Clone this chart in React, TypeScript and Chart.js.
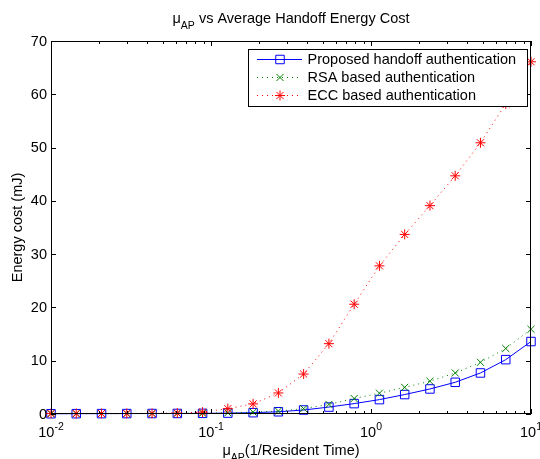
import { useEffect, useRef } from 'react';
import { Chart, registerables } from 'chart.js';
import { drawPoint } from 'chart.js/helpers';

Chart.register(...registerables);

// mu_AP values (1/Resident Time)
const muValues = [0.01, 0.01438, 0.02069, 0.02976, 0.04281, 0.06158, 0.08859, 0.1274, 0.1833, 0.2637, 0.3793, 0.5456, 0.7848, 1.129, 1.624, 2.336, 3.36, 4.833, 6.952, 10];
// Energy cost (mJ)
const proposedCost = [0.05, 0.06, 0.07, 0.08, 0.09, 0.1, 0.12, 0.17, 0.25, 0.42, 0.75, 1.3, 1.95, 2.7, 3.65, 4.7, 5.95, 7.7, 10.2, 13.6];
const rsaCost = [0.05, 0.06, 0.07, 0.08, 0.1, 0.12, 0.15, 0.22, 0.35, 0.55, 1.0, 1.8, 2.9, 3.9, 5.0, 6.15, 7.7, 9.7, 12.3, 15.9];
const eccCost = [0.1, 0.1, 0.1, 0.1, 0.12, 0.18, 0.35, 1.0, 1.9, 3.95, 7.5, 13.2, 20.6, 27.8, 33.7, 39.1, 44.7, 50.9, 58.2, 66.1];

const seriesLabels = ['Proposed handoff authentication', 'RSA based authentication', 'ECC based authentication'];
const yTicks = [0, 10, 20, 30, 40, 50, 60, 70];
const xMajorTicks = [0.01, 0.1, 1, 10];
const xTickExponents = ['-2', '-1', '0', '1'];
const xMinorMultipliers = [2, 3, 4, 5, 6, 7, 8, 9];

const titleMain = 'μ';
const titleSub = 'AP';
const titleRest = ' vs Average Handoff Energy Cost';
const xLabelMain = 'μ';
const xLabelSub = 'AP';
const xLabelRest = '(1/Resident Time)';
const yLabel = 'Energy cost (mJ)';

const FONT = '"Liberation Sans", Arial, Helvetica, sans-serif';

function drawSubText(ctx: CanvasRenderingContext2D, cx: number, baseline: number, main: string, sub: string, rest: string) {
  ctx.save();
  ctx.fillStyle = '#000';
  ctx.textAlign = 'left';
  ctx.textBaseline = 'alphabetic';
  const big = `14.5px ${FONT}`;
  const small = `10.5px ${FONT}`;
  ctx.font = big;
  const w1 = ctx.measureText(main).width;
  const w3 = ctx.measureText(rest).width;
  ctx.font = small;
  const w2 = ctx.measureText(sub).width;
  let x = cx - (w1 + w2 + w3) / 2;
  ctx.font = big;
  ctx.fillText(main, x, baseline);
  x += w1;
  ctx.font = small;
  ctx.fillText(sub, x, baseline + 6);
  x += w2;
  ctx.font = big;
  ctx.fillText(rest, x, baseline);
  ctx.restore();
}

const matlabPlugin = {
  id: 'matlabAxes',
  afterDatasetsDraw(chart: any) {
    const ctx: CanvasRenderingContext2D = chart.ctx;
    const { left, right, top, bottom } = chart.chartArea;
    const xs = chart.scales.x;
    const ys = chart.scales.y;
    ctx.save();
    ctx.strokeStyle = '#000';
    ctx.lineWidth = 1;
    // box
    ctx.strokeRect(left + 0.5, top + 0.5, right - left - 1, bottom - top - 1);
    ctx.beginPath();
    // y ticks
    yTicks.forEach((v) => {
      const py = Math.round(ys.getPixelForValue(v)) + 0.5;
      ctx.moveTo(left, py); ctx.lineTo(left + 5, py);
      ctx.moveTo(right, py); ctx.lineTo(right - 5, py);
    });
    // x major ticks
    xMajorTicks.forEach((v) => {
      const px = Math.round(xs.getPixelForValue(v)) + 0.5;
      ctx.moveTo(px, bottom); ctx.lineTo(px, bottom - 5);
      ctx.moveTo(px, top); ctx.lineTo(px, top + 5);
    });
    // x minor ticks
    xMajorTicks.slice(0, -1).forEach((d) => {
      xMinorMultipliers.forEach((m) => {
        const px = Math.round(xs.getPixelForValue(d * m)) + 0.5;
        ctx.moveTo(px, bottom); ctx.lineTo(px, bottom - 3);
        ctx.moveTo(px, top); ctx.lineTo(px, top + 3);
      });
    });
    ctx.stroke();

    // y tick labels
    ctx.fillStyle = '#000';
    ctx.font = `14.5px ${FONT}`;
    ctx.textAlign = 'right';
    ctx.textBaseline = 'middle';
    yTicks.forEach((v) => {
      ctx.fillText(String(v), left - 4, ys.getPixelForValue(v) + 0.5);
    });

    // x tick labels 10^n
    ctx.textBaseline = 'alphabetic';
    ctx.textAlign = 'left';
    xMajorTicks.forEach((v, i) => {
      const px = xs.getPixelForValue(v);
      ctx.font = `14.5px ${FONT}`;
      const wb = ctx.measureText('10').width;
      ctx.font = `10.5px ${FONT}`;
      const we = ctx.measureText(xTickExponents[i]).width;
      const x0 = px - (wb + we) / 2;
      ctx.font = `14.5px ${FONT}`;
      ctx.fillText('10', x0, bottom + 23);
      ctx.font = `10.5px ${FONT}`;
      ctx.fillText(xTickExponents[i], x0 + wb, bottom + 16);
    });

    // y axis title
    ctx.save();
    ctx.translate(22, (top + bottom) / 2);
    ctx.rotate(-Math.PI / 2);
    ctx.font = `14.5px ${FONT}`;
    ctx.textAlign = 'center';
    ctx.textBaseline = 'alphabetic';
    ctx.fillText(yLabel, 0, 0);
    ctx.restore();

    // x axis title and chart title
    drawSubText(ctx, (left + right) / 2, bottom + 41, xLabelMain, xLabelSub, xLabelRest);
    drawSubText(ctx, (left + right) / 2, 23, titleMain, titleSub, titleRest);

    // legend
    const lx = 248.5, ly = 49.5, lw = 279, lh = 57;
    ctx.fillStyle = '#fff';
    ctx.fillRect(lx, ly, lw, lh);
    ctx.strokeStyle = '#000';
    ctx.lineWidth = 1;
    ctx.strokeRect(lx, ly, lw, lh);
    chart.data.datasets.forEach((ds: any, i: number) => {
      const rowY = 59.5 + i * 18;
      ctx.save();
      ctx.strokeStyle = ds.borderColor;
      ctx.lineWidth = ds.borderWidth;
      ctx.setLineDash(ds.borderDash || []);
      ctx.beginPath();
      ctx.moveTo(257, rowY);
      ctx.lineTo(302, rowY);
      ctx.stroke();
      ctx.setLineDash([]);
      ctx.strokeStyle = ds.pointBorderColor;
      ctx.fillStyle = 'rgba(0,0,0,0)';
      ctx.lineWidth = ds.pointBorderWidth;
      drawPoint(ctx, { pointStyle: ds.pointStyle, rotation: 0, radius: ds.pointRadius, borderWidth: ds.pointBorderWidth } as any, 280, rowY);
      ctx.restore();
      ctx.fillStyle = '#000';
      ctx.font = `14.5px ${FONT}`;
      ctx.textAlign = 'left';
      ctx.textBaseline = 'middle';
      ctx.fillText(ds.label, 307.5, rowY + 0.5);
    });
    ctx.restore();
  },
};

export default function App() {
  const ref = useRef<HTMLCanvasElement | null>(null);
  useEffect(() => {
    if (!ref.current) return;
    const toPoints = (ys: number[]) => muValues.map((x, i) => ({ x, y: ys[i] }));
    const chart = new Chart(ref.current, {
      type: 'line',
      data: {
        datasets: [
          {
            label: seriesLabels[0],
            data: toPoints(proposedCost),
            borderColor: '#0000ff',
            borderWidth: 1,
            pointStyle: 'rect',
            pointRadius: 6,
            pointBorderWidth: 1,
            pointBorderColor: '#0000ff',
            pointBackgroundColor: 'rgba(0,0,0,0)',
            clip: false as any,
            order: 3,
          },
          {
            label: seriesLabels[1],
            data: toPoints(rsaCost),
            borderColor: '#008000',
            borderWidth: 1,
            borderDash: [1, 4],
            pointStyle: 'crossRot',
            pointRadius: 5,
            pointBorderWidth: 1,
            pointBorderColor: '#008000',
            pointBackgroundColor: 'rgba(0,0,0,0)',
            clip: false as any,
            order: 2,
          },
          {
            label: seriesLabels[2],
            data: toPoints(eccCost),
            borderColor: '#ff0000',
            borderWidth: 1,
            borderDash: [1, 4],
            pointStyle: 'star',
            pointRadius: 5,
            pointBorderWidth: 1,
            pointBorderColor: '#ff0000',
            pointBackgroundColor: 'rgba(0,0,0,0)',
            clip: false as any,
            order: 1,
          },
        ] as any,
      },
      options: {
        responsive: false,
        animation: false,
        layout: { padding: { left: 51, top: 41, right: 9, bottom: 45 } },
        scales: {
          x: { type: 'logarithmic', min: 0.01, max: 10, display: false },
          y: { type: 'linear', min: 0, max: 70, display: false },
        },
        plugins: {
          legend: { display: false },
          title: { display: false },
          tooltip: { enabled: false },
        },
      },
      plugins: [matlabPlugin],
    });
    return () => chart.destroy();
  }, []);
  return (
    <div style={{ position: 'absolute', left: 0, top: 0, width: 540, height: 459, background: '#fff' }}>
      <canvas ref={ref} width={540} height={459} style={{ width: 540, height: 459 }} />
    </div>
  );
}
